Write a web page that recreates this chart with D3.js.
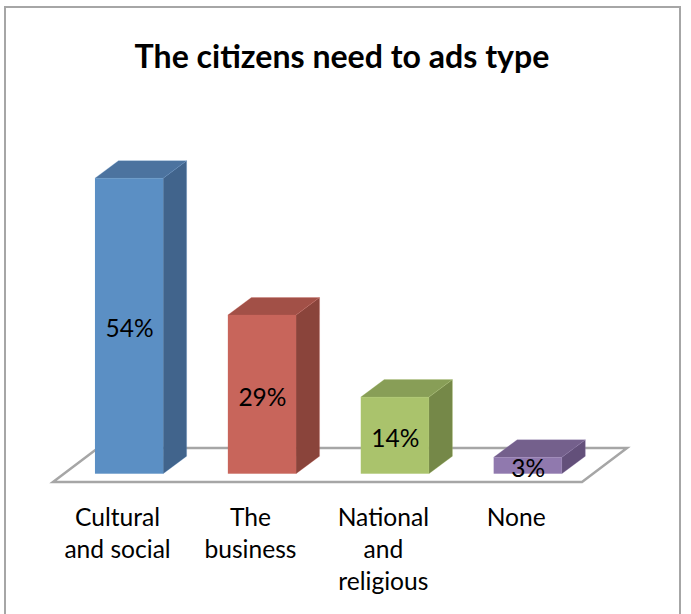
<!DOCTYPE html>
<html>
<head>
<meta charset="utf-8">
<script src="https://cdnjs.cloudflare.com/ajax/libs/d3/7.8.5/d3.min.js"></script>
<style>
  html, body { margin: 0; padding: 0; background: #fff; }
  svg { display: block; }
  text { font-family: Lato, "Open Sans", sans-serif; fill: #000; font-kerning: normal; }
</style>
</head>
<body>
<svg id="chart" width="691" height="614"></svg>
<script>
const chartTitle = "The citizens need to ads type";
const categories = ["Cultural and social", "The business", "National and religious", "None"];
const categoryLines = [["Cultural", "and social"], ["The", "business"], ["National", "and", "religious"], ["None"]];
const shares = [54, 29, 14, 3];
const frontColors = ["#5b8fc4", "#c8655b", "#aac36c", "#9079ae"];
const topColors = ["#4c739f", "#a25047", "#889e57", "#74608c"];
const sideColors = ["#41648c", "#8a443b", "#758848", "#63507a"];

const svg = d3.select("#chart");

// Depth offset of the oblique 3D projection
const depth = { dx: 23.5, dy: -17.5 };

const x = d3.scaleBand()
  .domain(categories)
  .range([62.4, 594.4])
  .paddingInner(0.487)
  .paddingOuter(0.245);

const y = d3.scaleLinear().domain([0, 54]).range([473.7, 178.2]);

const poly = pts => pts.map(p => p.join(",")).join(" ");

// Chart frame
svg.append("rect")
  .attr("x", 5).attr("y", 7)
  .attr("width", 675).attr("height", 620)
  .attr("fill", "#fff")
  .attr("stroke", "#a6a6a6").attr("stroke-width", 2);

svg.append("text")
  .attr("x", 342).attr("y", 68)
  .attr("text-anchor", "middle")
  .attr("font-size", 32.1)
  .attr("font-weight", 700)
  .text(chartTitle);

// Floor plane
svg.append("polygon")
  .attr("points", poly([[53, 482], [582, 482], [627, 448], [98, 448]]))
  .attr("fill", "#fff")
  .attr("stroke", "#a6a6a6").attr("stroke-width", 2.5)
  .attr("stroke-linejoin", "miter");

const bars = svg.append("g").selectAll("g")
  .data(categories.map((c, i) => ({ c, i, v: shares[i] })))
  .join("g");

const applyEdge = s => s
  .attr("stroke", (d) => frontColors[d.i])
  .attr("stroke-opacity", 0.35)
  .attr("stroke-width", 0.75);

bars.append("polygon")
  .attr("points", d => {
    const r = x(d.c) + x.bandwidth(), t = y(d.v), b = y(0);
    return poly([[r, t], [r + depth.dx, t + depth.dy], [r + depth.dx, b + depth.dy], [r, b]]);
  })
  .attr("fill", d => sideColors[d.i])
  .call(applyEdge);

bars.append("polygon")
  .attr("points", d => {
    const l = x(d.c), r = l + x.bandwidth(), t = y(d.v);
    return poly([[l, t], [l + depth.dx, t + depth.dy], [r + depth.dx, t + depth.dy], [r, t]]);
  })
  .attr("fill", d => topColors[d.i])
  .call(applyEdge);

bars.append("rect")
  .attr("x", d => x(d.c))
  .attr("y", d => y(d.v))
  .attr("width", x.bandwidth())
  .attr("height", d => y(0) - y(d.v))
  .attr("fill", d => frontColors[d.i]);

// Value labels centred on each front face
bars.append("text")
  .attr("x", d => x(d.c) + x.bandwidth() / 2 + 0.5)
  .attr("y", d => (y(d.v) + y(0)) / 2 + 11.5)
  .attr("text-anchor", "middle")
  .attr("font-size", 24.5)
  .text(d => d.v + "%");

// Category labels, wrapped by hand
const labels = svg.append("g").selectAll("text")
  .data(categories.map((c, i) => ({ c, i })))
  .join("text")
  .attr("text-anchor", "middle")
  .attr("font-size", 24.6);

labels.selectAll("tspan")
  .data(d => categoryLines[d.i].map(line => ({ line, c: d.c })))
  .join("tspan")
  .attr("x", d => x(d.c) + x.bandwidth() / 2 - 11.5)
  .attr("y", (d, i) => 525.5 + i * 32)
  .text(d => d.line);
</script>
</body>
</html>
